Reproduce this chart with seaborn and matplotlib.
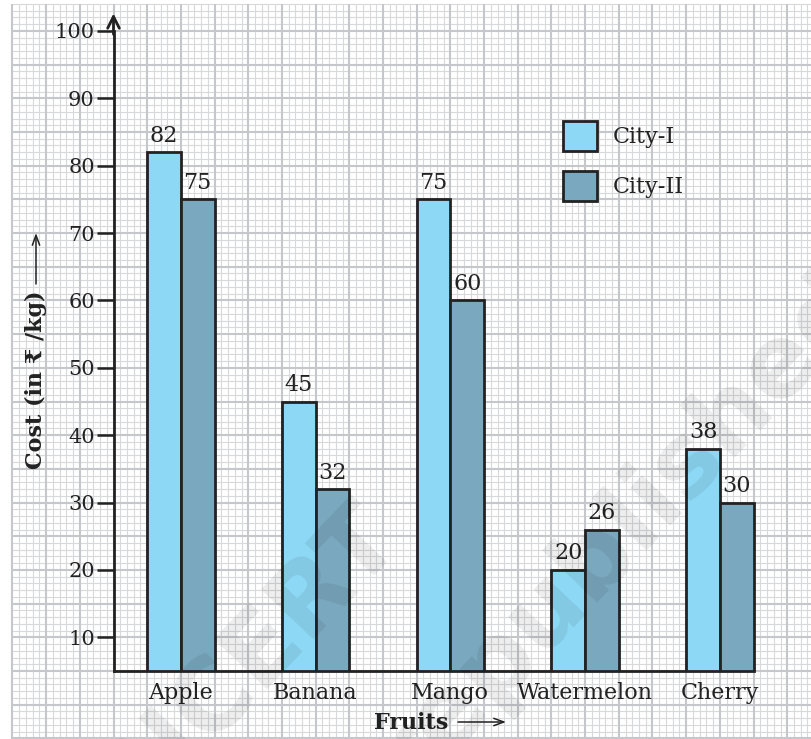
import numpy as np
import pandas as pd
import matplotlib
matplotlib.use("Agg")
import matplotlib.pyplot as plt
import matplotlib.patches as mpatches
import seaborn as sns

# ---- data ----
fruits = ["Apple", "Banana", "Mango", "Watermelon", "Cherry"]
city1 = [82, 45, 75, 20, 38]
city2 = [75, 32, 60, 26, 30]
series_names = ["City-I", "City-II"]
yticks = [10, 20, 30, 40, 50, 60, 70, 80, 90, 100]

df = pd.DataFrame({
    "Fruit": fruits * 2,
    "Cost": city1 + city2,
    "City": [series_names[0]] * len(fruits) + [series_names[1]] * len(fruits),
})

sns.set_theme(style="white")
plt.rcParams["font.family"] = ["DejaVu Serif", "DejaVu Sans"]

C1 = "#8dd8f5"
C2 = "#7aa8be"
EDGE = "#222222"
TXT = "#222222"

W, H = 811, 739
fig = plt.figure(figsize=(W / 100, H / 100), dpi=100)
fig.patch.set_facecolor("white")

# axes geometry (pixels)
ax_l, ax_r, ax_b, ax_t = 113.5, 811, 671, 4.0
ax = fig.add_axes([ax_l / W, 1 - ax_b / H, (ax_r - ax_l) / W, (ax_b - ax_t) / H])
ax.set_facecolor("none")

ymin, ymax = 5, 104
u = (ax_b - ax_t) / (ymax - ymin)          # px per y unit
xspan = (ax_r - ax_l) / (20 * u)            # category spacing = 20 y-units
xmin = -0.5
xmax = xmin + xspan

def fx(px):   # figure pixel x -> axes fraction
    return (px - ax_l) / (ax_r - ax_l)

def fy(py):   # figure pixel y (from top) -> axes fraction
    return (ax_b - py) / (ax_b - ax_t)

sns.barplot(data=df, x="Fruit", y="Cost", hue="City", palette=[C1, C2],
            width=0.5, edgecolor=EDGE, linewidth=2.0, errorbar=None,
            ax=ax, legend=False, saturation=1)
ax.set_xlim(xmin, xmax)
ax.set_ylim(ymin, ymax)

# graph paper grid (drawn outside the axes as well)
gx0 = -1.25
ys = np.arange(-8, 105)
xs = np.round(np.arange(gx0, xmax + 0.05, 0.05), 4)
minor_y = [v for v in ys if v % 5 != 0]
major_y = [v for v in ys if v % 5 == 0]
minor_x = [v for v in xs if abs(v / 0.25 - round(v / 0.25)) > 1e-6]
major_x = [v for v in xs if abs(v / 0.25 - round(v / 0.25)) <= 1e-6]
gc_minor, gc_major = "#d8d9db", "#c6c7ca"
ax.hlines(minor_y, gx0, xmax + 0.1, colors=gc_minor, lw=0.8, clip_on=False, zorder=0)
ax.vlines(minor_x, -8, ymax, colors=gc_minor, lw=0.8, clip_on=False, zorder=0)
ax.hlines(major_y, gx0, xmax + 0.1, colors=gc_major, lw=1.5, clip_on=False, zorder=0)
ax.vlines(major_x, -8, ymax, colors=gc_major, lw=1.5, clip_on=False, zorder=0)

# bar labels
for cont in ax.containers:
    ax.bar_label(cont, fmt="%d", padding=4, fontsize=16, color=TXT)

# spines
for s in ["top", "right"]:
    ax.spines[s].set_visible(False)
for s in ["left", "bottom"]:
    ax.spines[s].set_linewidth(2.0)
    ax.spines[s].set_color(EDGE)
ax.spines["left"].set_bounds(ymin, 100)
ax.spines["bottom"].set_bounds(xmin, 4.25)
ax.annotate("", xy=(xmin, 102.6), xytext=(xmin, 99.5),
            arrowprops=dict(arrowstyle="->,head_width=0.35,head_length=0.7",
                            lw=2.0, color=EDGE, shrinkA=0, shrinkB=0),
            annotation_clip=False)

ax.set_yticks(yticks)
ax.set_yticklabels([str(v) for v in yticks])
ax.tick_params(axis="y", direction="out", length=12.5, width=1.8, color=EDGE,
               labelsize=15, pad=1.0, left=True, labelcolor=TXT)
ax.tick_params(axis="x", length=0, labelsize=16, pad=8, labelcolor=TXT)

# axis titles (text) + long arrows
ax.set_xlabel("Fruits", fontsize=16, fontweight="bold", color=TXT)
ax.xaxis.set_label_coords(fx(411), fy(712))
ax.annotate("", xy=(fx(506), fy(722)), xytext=(fx(458), fy(722)),
            xycoords="axes fraction", textcoords="axes fraction",
            arrowprops=dict(arrowstyle="->,head_width=0.22,head_length=0.6",
                            lw=1.1, color=TXT, shrinkA=0, shrinkB=0),
            annotation_clip=False)

ax.set_ylabel("Cost (in ₹ /kg)", fontsize=16, fontweight="bold", color=TXT)
ax.yaxis.set_label_coords(fx(47), fy(380))
ax.annotate("", xy=(fx(36), fy(233)), xytext=(fx(36), fy(284)),
            xycoords="axes fraction", textcoords="axes fraction",
            arrowprops=dict(arrowstyle="->,head_width=0.22,head_length=0.6",
                            lw=1.1, color=TXT, shrinkA=0, shrinkB=0),
            annotation_clip=False)

# legend
handles = [mpatches.Patch(facecolor=C1, edgecolor=EDGE, linewidth=2.0),
           mpatches.Patch(facecolor=C2, edgecolor=EDGE, linewidth=2.0)]
leg = ax.legend(handles, series_names, loc="upper left",
                bbox_to_anchor=(563 / W, 1 - 121 / H), bbox_transform=fig.transFigure,
                frameon=False, fontsize=16, handlelength=1.53, handleheight=1.71,
                labelspacing=0.9, handletextpad=0.72, borderpad=0, borderaxespad=0)
for t in leg.get_texts():
    t.set_color(TXT)

# faint watermark
fig.text(385 / W, 1 - 525 / H, "© NCERT", rotation=46.5, rotation_mode="anchor",
         ha="right", va="center", fontsize=72, fontweight="bold",
         color="#000000", alpha=0.07, family="DejaVu Sans", zorder=10)
fig.text(855 / W, 1 - 292 / H, "not to be republished", rotation=46.5,
         rotation_mode="anchor", ha="right", va="center", fontsize=72,
         fontweight="bold", color="#000000", alpha=0.07, family="DejaVu Sans",
         zorder=10)

fig.savefig("out.png", dpi=100, facecolor="white")
